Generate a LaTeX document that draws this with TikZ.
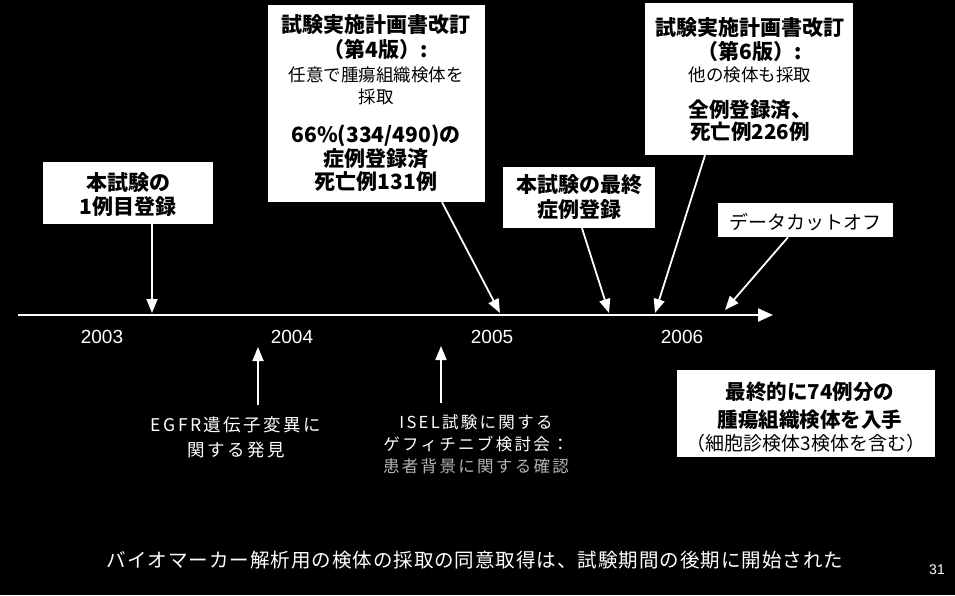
\documentclass[tikz,border=0pt]{standalone}
\usepackage{fontspec}
\setmainfont{Liberation Sans}
\newfontfamily\jp{Noto Sans CJK JP}
\newfontfamily\jpsp[LetterSpace=14]{Noto Sans CJK JP}
\newfontfamily\jpft[LetterSpace=5]{Noto Sans CJK JP}
\usetikzlibrary{arrows.meta}
\begin{document}
\begin{tikzpicture}[x=1pt,y=-1pt,
  box/.style={fill=white, draw=none, inner sep=0pt},
  bt/.style={inner sep=0pt, align=center, text=black, font=\jp\bfseries\fontsize{21}{24}\selectfont},
  nt/.style={inner sep=0pt, align=center, text=black, font=\jp\fontsize{17.5}{22}\selectfont},
  wt/.style={inner sep=0pt, align=center, text=white, font=\jpsp\fontsize{17.5}{25}\selectfont},
  yr/.style={inner sep=0pt, text=white, font=\fontsize{19}{22}\selectfont},
  arr/.style={draw=white, line width=1.8pt, -{Triangle[width=11pt,length=14pt]}},
  axis/.style={draw=white, line width=2.2pt, -{Triangle[width=13pt,length=15pt]}}]
\useasboundingbox (0,0) rectangle (955,595);
\fill[black] (0,0) rectangle (955,595);

% boxes
\node[box, minimum width=170pt, minimum height=62pt] (b1) at (128,193) {};
\node[box, minimum width=217pt, minimum height=197pt] (b2) at (376.5,103.5) {};
\node[box, minimum width=152pt, minimum height=61pt] (b3) at (579,197.5) {};
\node[box, minimum width=208pt, minimum height=152pt] (b4) at (749,79) {};
\node[box, minimum width=175pt, minimum height=34pt] (b5) at (805.5,220) {};
\node[box, minimum width=258pt, minimum height=87pt] (b6) at (806,413.5) {};

% box texts
\node[bt] (b1t) at (128,195) {本試験の\\1例目登録};

\node[bt, font=\jp\bfseries\fontsize{21}{25}\selectfont] (b2a) at (376,37.5) {試験実施計画書改訂\\（第4版）:};
\node[nt] (b2b) at (376,86) {任意で腫瘍組織検体を\\採取};
\node[bt, font=\jp\bfseries\fontsize{21}{23.5}\selectfont] (b2c) at (376,158.5) {66\%(334/490)の\\症例登録済\\死亡例131例};

\node[bt, font=\jp\bfseries\fontsize{21}{25}\selectfont] (b3t) at (579,197.5) {本試験の最終\\症例登録};

\node[bt] (b4a) at (750,40) {試験実施計画書改訂\\（第6版）:};
\node[nt] (b4b) at (750,75) {他の検体も採取};
\node[bt, font=\jp\bfseries\fontsize{20.5}{22}\selectfont] (b4c) at (750,121) {全例登録済、\\死亡例226例};

\node[nt, font=\jp\fontsize{19}{22}\selectfont] (b5t) at (805.5,222) {データカットオフ};

\node[bt, font=\jp\bfseries\fontsize{20.5}{28}\selectfont] (b6a) at (810,406) {最終的に74例分の\\腫瘍組織検体を入手};
\node[nt, font=\jp\fontsize{19}{22}\selectfont] (b6b) at (806,443) {（細胞診検体3検体を含む）};

% axis
\coordinate (ax0) at (18,315);
\coordinate (ax1) at (773,315);
\draw[axis] (ax0) -- (ax1);

\node[yr] (y3) at (102,337) {2003};
\node[yr] (y4) at (292,337) {2004};
\node[yr] (y5) at (492,337) {2005};
\node[yr] (y6) at (682,337) {2006};

% arrows from boxes
\coordinate (t1) at (152,313);
\coordinate (t2) at (500,313);
\coordinate (t3) at (609,313);
\coordinate (t4) at (655,313);
\coordinate (t5) at (725,310);
\draw[arr] ([xshift=24pt]b1.south) -- (t1);
\draw[arr] ([xshift=65.5pt]b2.south) -- (t2);
\draw[arr] ([xshift=3pt]b3.south) -- (t3);
\draw[arr] ([xshift=-44pt]b4.south) -- (t4);
\draw[arr] ([xshift=-17.5pt]b5.south) -- (t5);

% lower events
\node[wt] (e1) at (236,437.5) {EGFR遺伝子変異に\\関する発見};
\node[wt, font=\jpsp\fontsize{16.5}{22}\selectfont] (e2) at (476,433.5) {ISEL試験に関する\\ゲフィチニブ検討会：};
\node[wt, text=white!70!black, font=\jpsp\fontsize{16.5}{22}\selectfont] (e3) at (476,466) {患者背景に関する確認};
\coordinate (u1s) at (258,405);
\coordinate (u1) at (258,347);
\coordinate (u2s) at (441,403);
\coordinate (u2) at (441,346);
\draw[arr] (u1s) -- (u1);
\draw[arr] (u2s) -- (u2);

% footer
\node[wt, font=\jpft\fontsize{19.5}{22}\selectfont] (foot) at (475,560) {バイオマーカー解析用の検体の採取の同意取得は、試験期間の後期に開始された};
\node[yr, font=\fontsize{14}{16}\selectfont] (pg) at (937,570) {31};
\end{tikzpicture}
\end{document}
